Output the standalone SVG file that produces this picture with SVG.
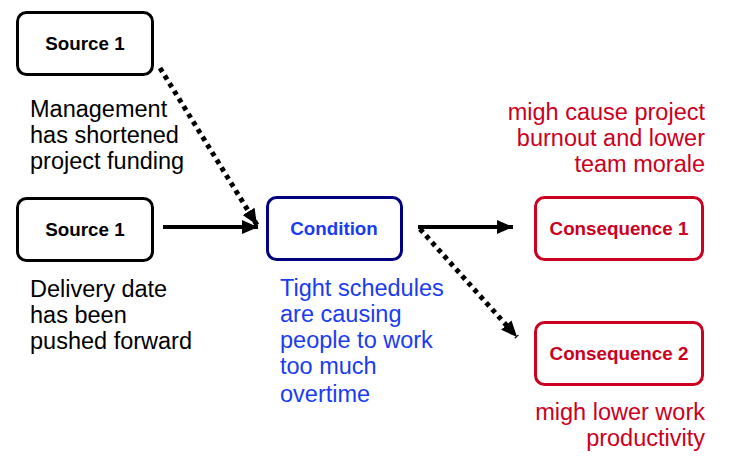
<svg xmlns="http://www.w3.org/2000/svg" width="754" height="470" viewBox="0 0 754 470">
<style>
.box{fill:#fff;stroke-width:3}
.blk{stroke:#000}
.nav{stroke:#000080}
.red{stroke:#cc0020}
.lbl{font-family:"Liberation Sans",Arial,sans-serif;font-weight:bold;font-size:18.8px;text-anchor:middle}
.txt{font-family:"Liberation Sans",Arial,sans-serif;font-size:23.5px}
.conn{fill:none;stroke:#000;stroke-width:4}
.dot{stroke-width:5;stroke-dasharray:4.5 4.5}
</style>
<defs>
<marker id="ah" markerUnits="userSpaceOnUse" markerWidth="18" markerHeight="16" refX="16" refY="7" orient="auto">
<path d="M0,0 L16,7 L0,14 Z" fill="#000"/>
</marker>
</defs>
<rect width="754" height="470" fill="#fff"/>
<g id="connectors">
<path class="conn dot" d="M160,68 L257,225" marker-end="url(#ah)"/>
<path class="conn" d="M163,227 L258,227" marker-end="url(#ah)"/>
<path class="conn" d="M418,227 L513,227" marker-end="url(#ah)"/>
<path class="conn dot" d="M420,229 L517,337" marker-end="url(#ah)"/>
</g>
<g id="source1a">
<rect class="box blk" x="17.5" y="12.5" width="135" height="62" rx="9"/>
<text class="lbl" x="85" y="50" fill="#000">Source 1</text>
<text class="txt" fill="#000"><tspan x="30" y="117">Management</tspan><tspan x="30" y="143">has shortened</tspan><tspan x="30" y="169">project funding</tspan></text>
</g>
<g id="source1b">
<rect class="box blk" x="17.5" y="198.5" width="135" height="62" rx="9"/>
<text class="lbl" x="85" y="236" fill="#000">Source 1</text>
<text class="txt" fill="#000"><tspan x="30" y="297">Delivery date</tspan><tspan x="30" y="323">has been</tspan><tspan x="30" y="349">pushed forward</tspan></text>
</g>
<g id="condition">
<rect class="box nav" x="267.5" y="197.5" width="134" height="62" rx="9"/>
<text class="lbl" x="334" y="235" fill="#1a3cf0">Condition</text>
<text class="txt" fill="#1a3cf0"><tspan x="280" y="296">Tight schedules</tspan><tspan x="280" y="322">are causing</tspan><tspan x="280" y="348">people to work</tspan><tspan x="280" y="374">too much</tspan><tspan x="280" y="402">overtime</tspan></text>
</g>
<g id="consequence1">
<rect class="box red" x="535.5" y="197.5" width="167" height="62" rx="9"/>
<text class="lbl" x="619" y="235" fill="#cc0020">Consequence 1</text>
<text class="txt" fill="#cc0020" text-anchor="end"><tspan x="705" y="120">migh cause project</tspan><tspan x="705" y="146">burnout and lower</tspan><tspan x="705" y="172">team morale</tspan></text>
</g>
<g id="consequence2">
<rect class="box red" x="535.5" y="322.5" width="167" height="62" rx="9"/>
<text class="lbl" x="619" y="360" fill="#cc0020">Consequence 2</text>
<text class="txt" fill="#cc0020" text-anchor="end"><tspan x="705" y="420">migh lower work</tspan><tspan x="705" y="446">productivity</tspan></text>
</g>
</svg>
